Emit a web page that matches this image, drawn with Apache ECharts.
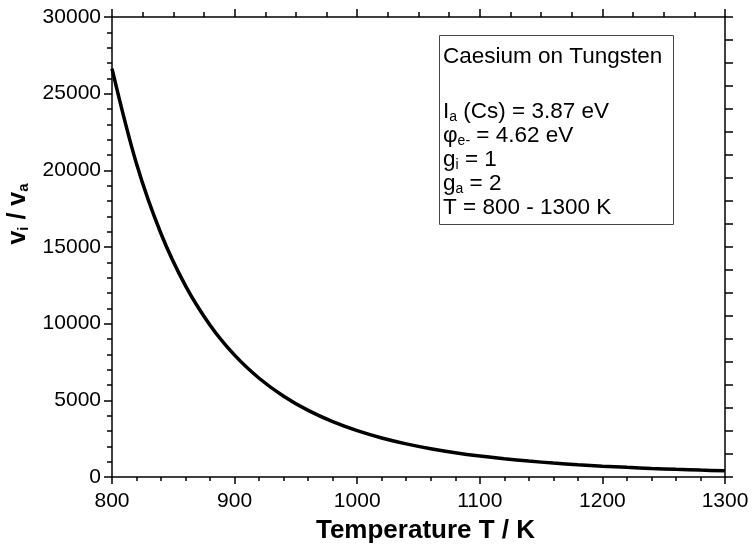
<!DOCTYPE html>
<html>
<head>
<meta charset="utf-8">
<script src="https://cdn.jsdelivr.net/npm/echarts@6/dist/echarts.min.js"></script>
<style>
  html, body { margin: 0; padding: 0; background: #ffffff; }
  #chart { width: 752px; height: 547px; }
</style>
</head>
<body>
<div id="chart"></div>
<script>
// Ion-to-atom ratio of caesium evaporating from hot tungsten
const temperatures = [800, 820, 840, 860, 880, 900, 920, 940, 960, 980, 1000,
  1020, 1040, 1060, 1080, 1100, 1120, 1140, 1160, 1180, 1200,
  1220, 1240, 1260, 1280, 1300];
const ratioValues = [26637, 20428, 15865, 12466, 9904, 7949, 6442, 5267, 4342, 3609, 3021,
  2547, 2162, 1846, 1585, 1369, 1189, 1037, 909, 801, 708,
  629, 560, 501, 450, 405];

const xRange = [800, 1300];
const yRange = [0, 30000];

const infoTitle = 'Caesium on Tungsten';
const infoLines = [
  '{m|I}{s|a}{m| (Cs) = 3.87 eV}',
  '{m|\u03c6}{s|e-}{m| = 4.62 eV}',
  '{m|g}{s|i}{m| = 1}',
  '{m|g}{s|a}{m| = 2}',
  '{m|T = 800 - 1300 K}'
];

const FONT = '"Liberation Sans", Arial, Helvetica, sans-serif';
const black = '#000000';
const lineStyle = { color: black, width: 1.5 };
const plainNumber = v => String(v);

const chart = echarts.init(document.getElementById('chart'), null, { renderer: 'canvas' });

const infoRich = {
  m: { fontSize: 22.5, fontFamily: FONT, color: black, lineHeight: 25 },
  s: { fontSize: 14, fontFamily: FONT, color: black, lineHeight: 10, verticalAlign: 'bottom' }
};
const infoY = [112, 136, 160, 184, 208];

const graphics = [
  {
    type: 'rect',
    shape: { x: 439.5, y: 35.5, width: 234, height: 189 },
    style: { fill: '#ffffff', stroke: '#444444', lineWidth: 1 },
    z: 10
  },
  {
    type: 'text',
    x: 443, y: 57,
    style: { text: infoTitle, fontSize: 22.5, fontFamily: FONT, fill: black, verticalAlign: 'middle' },
    z: 11
  }
].concat(infoLines.map((t, i) => ({
  type: 'text',
  x: 443, y: infoY[i],
  style: { text: t, rich: infoRich, fill: black, verticalAlign: 'middle' },
  z: 11
})));

const option = {
  backgroundColor: '#ffffff',
  animation: false,
  grid: { left: 112, top: 17, width: 613, height: 460, containLabel: false, outerBoundsMode: 'none' },
  xAxis: [
    {
      type: 'value', position: 'bottom',
      min: xRange[0], max: xRange[1], interval: 100,
      axisLine: { show: true, onZero: false, lineStyle },
      axisTick: { show: true, inside: false, length: 7, lineStyle },
      minorTick: { show: true, splitNumber: 5, length: 4, lineStyle },
      splitLine: { show: false },
      axisLabel: { fontSize: 21, fontFamily: FONT, color: black, margin: 14, formatter: plainNumber },
      name: 'Temperature T / K',
      nameLocation: 'middle',
      nameGap: 41,
      nameTextStyle: { fontSize: 26, fontWeight: 'bold', fontFamily: FONT, color: black, padding: [0, 0, 0, 14] }
    },
    {
      type: 'value', position: 'top',
      min: xRange[0], max: xRange[1], interval: 100,
      axisLine: { show: true, onZero: false, lineStyle },
      axisTick: { show: true, inside: false, length: 8, lineStyle },
      minorTick: { show: true, splitNumber: 4, length: 5, lineStyle },
      splitLine: { show: false },
      axisLabel: { show: false }
    }
  ],
  yAxis: [
    {
      type: 'value', position: 'left',
      min: yRange[0], max: yRange[1], interval: 5000,
      axisLine: { show: true, onZero: false, lineStyle },
      axisTick: { show: true, inside: false, length: 8, lineStyle },
      minorTick: { show: true, splitNumber: 5, length: 5, lineStyle },
      splitLine: { show: false },
      axisLabel: { fontSize: 21, fontFamily: FONT, color: black, margin: 11, formatter: plainNumber },
      name: '{m|v}{s|i}{m| / v}{s|a}',
      nameLocation: 'middle',
      nameRotate: 90,
      nameGap: 72,
      nameTextStyle: {
        padding: [0, 0, 0, 66],
        rich: {
          m: { fontSize: 25, fontWeight: 'bold', fontFamily: FONT, color: black, lineHeight: 27 },
          s: { fontSize: 15, fontWeight: 'bold', fontFamily: FONT, color: black, lineHeight: 10, verticalAlign: 'bottom' }
        }
      }
    },
    {
      type: 'value', position: 'right',
      min: yRange[0], max: yRange[1], interval: 1500,
      axisLine: { show: true, onZero: false, lineStyle },
      axisTick: { show: true, inside: false, length: 8, lineStyle },
      splitLine: { show: false },
      axisLabel: { show: false }
    }
  ],
  series: [
    {
      type: 'line',
      xAxisIndex: 0,
      yAxisIndex: 0,
      data: temperatures.map((t, i) => [t, ratioValues[i]]),
      smooth: 0.35,
      showSymbol: false,
      symbol: 'none',
      lineStyle: { color: black, width: 3.5 },
      z: 5
    }
  ],
  graphic: graphics
};

chart.setOption(option);
</script>
</body>
</html>
